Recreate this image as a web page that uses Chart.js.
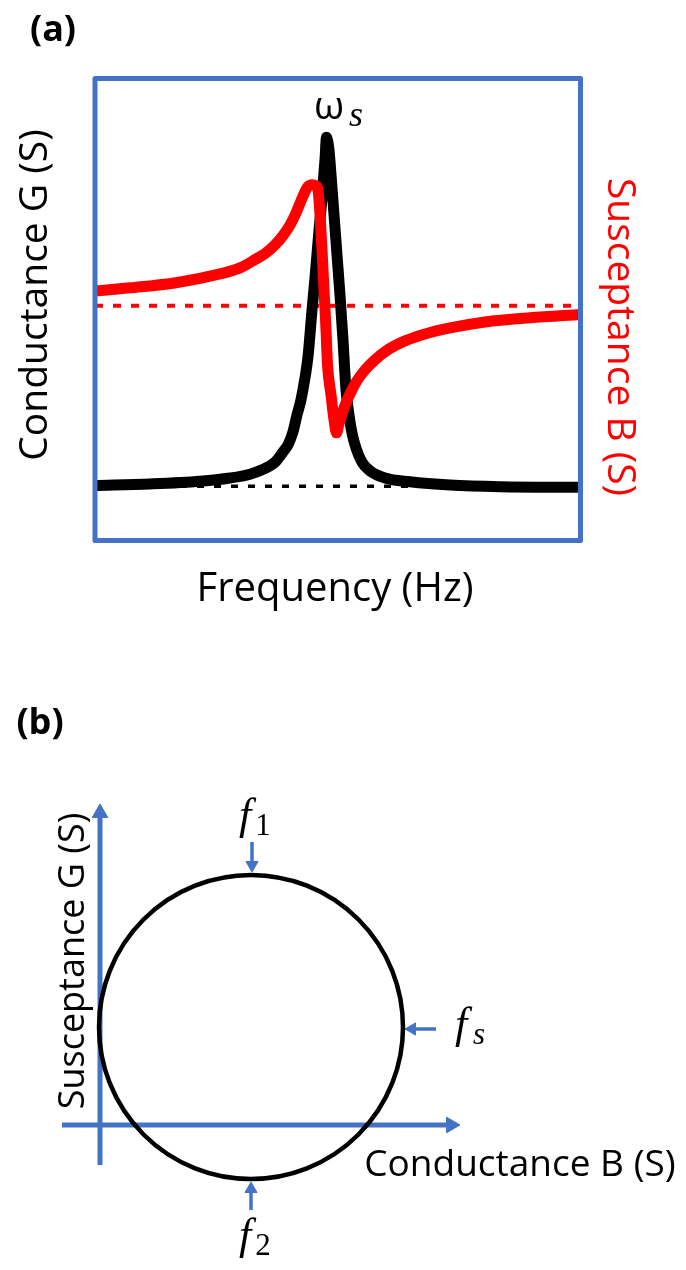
<!DOCTYPE html>
<html>
<head>
<title>Admittance</title>
<script src="https://cdn.jsdelivr.net/npm/chart.js"></script>
<style>
  body { margin: 0; background: #fff; }
  #chartA { position: absolute; left: 0; top: 0; }
  #chartB { position: absolute; left: 0; top: 620px; }
</style>
</head>
<body>
<canvas id="chartA" width="686" height="620"></canvas>
<canvas id="chartB" width="686" height="650"></canvas>
<script>
// (a) conductance G and susceptance B against frequency (arbitrary units)
var gFreq = [0, 11.33, 21.63, 27.81, 31.93, 34.40, 37.07, 38.72, 39.75, 40.78, 41.61, 42.43, 43.25, 43.87,
             44.70, 45.31, 46.14, 46.76, 47.37, 47.68, 48.20, 48.61, 49.23, 49.85, 50.46, 51.08, 51.70,
             52.32, 52.93, 53.76, 55.00, 56.64, 59.73, 64.88, 73.12, 83.42, 100];
var gValues = [0.01, 0.04, 0.09, 0.15, 0.22, 0.30, 0.44, 0.63, 0.76, 1.00, 1.31, 1.59, 1.99, 2.38,
               3.24, 3.83, 4.71, 5.30, 6.00, 6.42, 6.18, 5.73, 4.99, 4.25, 3.52, 2.69, 1.77,
               1.31, 0.98, 0.70, 0.44, 0.28, 0.15, 0.08, 0.02, -0.01, -0.02];

var bFreq = [0, 7.21, 16.68, 25.75, 29.87, 32.96, 35.01, 37.07, 38.72, 40.17, 41.40, 42.43, 43.25, 43.87,
             44.70, 45.52, 45.93, 46.35, 46.76, 47.17, 47.58, 47.89, 48.61, 49.23, 49.74, 50.26, 50.87,
             51.70, 52.73, 53.97, 55.61, 57.67, 60.35, 63.85, 67.97, 73.12, 80.33, 89.60, 100];
var bValues = [0.32, 0.39, 0.50, 0.69, 0.82, 1.00, 1.13, 1.32, 1.52, 1.75, 2.01, 2.27, 2.47, 2.58,
               2.62, 2.60, 2.51, 1.97, 1.21, 0.35, -0.52, -1.28, -1.93, -2.47, -2.75, -2.55, -2.34,
               -2.10, -1.86, -1.62, -1.39, -1.17, -0.95, -0.76, -0.61, -0.48, -0.35, -0.26, -0.19];

var freqRange = [0, 100];

// (b) admittance circle
var circleCenter = [3.02, 1.96];
var circleRadius = 3.04;
var axisHorizontal = [[-0.76, 0], [7.02, 0]];
var axisVertical = [[0, -0.8], [0, 6.24]];
var arrowF1 = [[3.04, 5.66], [3.04, 5.20]];
var arrowFs = [[6.72, 1.92], [6.24, 1.92]];
var arrowF2 = [[3.02, -1.70], [3.02, -1.28]];

var blue = '#4472C4';

function toPoints(xs, ys) {
    return xs.map(function (x, i) { return { x: x, y: ys[i] }; });
}

function pairPoints(pairs) {
    return pairs.map(function (p) { return { x: p[0], y: p[1] }; });
}

function label(ctx, text, x, y, font, color, angle) {
    ctx.save();
    ctx.translate(x, y);
    if (angle) ctx.rotate(angle);
    ctx.font = font;
    ctx.fillStyle = color;
    ctx.textAlign = 'center';
    ctx.textBaseline = 'middle';
    ctx.fillText(text, 0, 0);
    ctx.restore();
}

var panelA = {
    id: 'panelA',
    afterDatasetsDraw: function (chart) {
        var ctx = chart.ctx, a = chart.chartArea;
        ctx.save();
        ctx.strokeStyle = blue;
        ctx.lineWidth = 5;
        ctx.lineJoin = 'round';
        ctx.strokeRect(a.left, a.top, a.right - a.left, a.bottom - a.top);
        ctx.restore();

        label(ctx, '(a)', 53, 31, 'bold 36px "Open Sans"', '#000');
        label(ctx, '\u03c9', 329, 108, '39px "Open Sans"', '#000');
        label(ctx, 's', 356, 117, 'italic 36px "Liberation Serif"', '#000');
        label(ctx, 'Conductance G (S)', 36, 295, '39px "Open Sans"', '#000', -Math.PI / 2);
        label(ctx, 'Susceptance B (S)', 619, 337, '39px "Open Sans"', '#ff0000', Math.PI / 2);
        label(ctx, 'Frequency (Hz)', 335, 590, '40px "Open Sans"', '#000');
    }
};

new Chart(document.getElementById('chartA'), {
    type: 'line',
    data: {
        datasets: [{
            label: 'Susceptance B',
            data: toPoints(bFreq, bValues),
            yAxisID: 'yB',
            borderColor: '#ff0000',
            borderWidth: 11,
            borderJoinStyle: 'round',
            borderCapStyle: 'round',
            pointRadius: 0,
            cubicInterpolationMode: 'monotone',
            clip: 0,
            order: 0
        }, {
            label: 'Conductance G',
            data: toPoints(gFreq, gValues),
            yAxisID: 'yG',
            borderColor: '#000',
            borderWidth: 11,
            borderJoinStyle: 'round',
            borderCapStyle: 'round',
            pointRadius: 0,
            cubicInterpolationMode: 'monotone',
            clip: 0,
            order: 1
        }, {
            label: 'B = 0',
            data: toPoints(freqRange, [0, 0]),
            yAxisID: 'yB',
            borderColor: '#ff0000',
            borderWidth: 4,
            borderDash: [8, 10],
            pointRadius: 0,
            clip: 0,
            order: 2
        }, {
            label: 'G = 0',
            data: toPoints(freqRange, [0, 0]),
            yAxisID: 'yG',
            borderColor: '#000',
            borderWidth: 3.5,
            borderDash: [7, 10],
            pointRadius: 0,
            clip: 0,
            order: 3
        }]
    },
    options: {
        responsive: false,
        animation: false,
        events: [],
        layout: { padding: { left: 95, right: 105.5, top: 78.5, bottom: 79.5 } },
        plugins: { legend: { display: false }, tooltip: { enabled: false } },
        scales: {
            x: { type: 'linear', min: 0, max: 100, display: false },
            yG: { type: 'linear', position: 'left', min: -1, max: 7.5, display: false },
            yB: { type: 'linear', position: 'right', min: -5.08, max: 4.92, display: false }
        }
    },
    plugins: [panelA]
});

function fLabel(ctx, sub, x, y, subItalic) {
    label(ctx, 'f', x, y, 'italic 44px "Liberation Serif"', '#000');
    label(ctx, sub, x + 18, y + 10, (subItalic ? 'italic ' : '') + '31px "Liberation Serif"', '#000');
}

var panelB = {
    id: 'panelB',
    afterDatasetsDraw: function (chart) {
        var ctx = chart.ctx;
        label(ctx, '(b)', 40, 104, 'bold 36px "Open Sans"', '#000');
        label(ctx, 'Susceptance G (S)', 74, 341, '36px "Open Sans"', '#000', -Math.PI / 2);
        label(ctx, 'Conductance B (S)', 520, 545, '37px "Open Sans"', '#000');
        fLabel(ctx, '1', 245, 197, false);
        fLabel(ctx, 's', 461, 406, true);
        fLabel(ctx, '2', 245, 617, false);
    }
};

function arrowSet(points, width, headRadius, headRotation) {
    return {
        data: pairPoints(points),
        showLine: true,
        borderColor: blue,
        borderWidth: width,
        pointRadius: [0, headRadius],
        pointStyle: 'triangle',
        rotation: headRotation,
        pointBackgroundColor: blue,
        pointBorderColor: blue,
        pointBorderWidth: 1,
        clip: false,
        order: 1
    };
}

new Chart(document.getElementById('chartB'), {
    type: 'scatter',
    data: {
        datasets: [{
            label: 'Admittance circle',
            data: [{ x: circleCenter[0], y: circleCenter[1] }],
            pointStyle: 'circle',
            pointRadius: function (c) {
                var s = c.chart.scales.x;
                return s.getPixelForValue(circleCenter[0] + circleRadius) - s.getPixelForValue(circleCenter[0]);
            },
            pointBackgroundColor: 'rgba(0,0,0,0)',
            pointBorderColor: '#000',
            pointBorderWidth: 4.5,
            clip: false,
            order: 0
        },
        arrowSet(axisHorizontal, 5, 9, 90),
        arrowSet(axisVertical, 5, 9, 0),
        arrowSet(arrowF1, 3.5, 7, 180),
        arrowSet(arrowFs, 3.5, 7, 270),
        arrowSet(arrowF2, 3.5, 7, 0)
        ]
    },
    options: {
        responsive: false,
        animation: false,
        events: [],
        layout: { padding: { left: 40, right: 186, top: 160, bottom: 40 } },
        plugins: { legend: { display: false }, tooltip: { enabled: false } },
        scales: {
            x: { type: 'linear', min: -1.2, max: 8, display: false },
            y: { type: 'linear', min: -2.1, max: 6.9, display: false }
        }
    },
    plugins: [panelB]
});
</script>
</body>
</html>
